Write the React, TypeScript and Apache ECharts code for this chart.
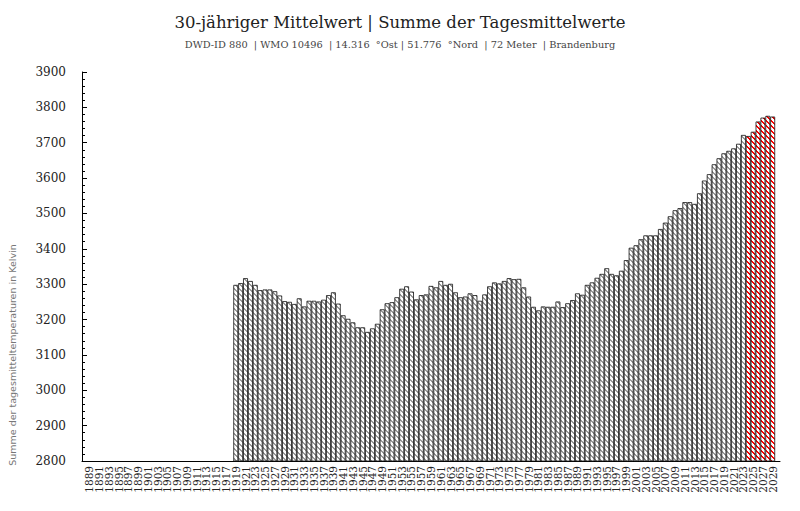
import React, { useEffect, useRef } from 'react';
import * as echarts from 'echarts';

const firstYear = 1888;
const lastYear = 2030;
const years: string[] = [];
for (let y = firstYear; y <= lastYear; y++) years.push(String(y));

const observedStart = 1919;
const observedValues: number[] = [
  3298, 3303, 3317, 3309, 3298, 3283, 3285, 3285, 3280, 3268,
  3252, 3250, 3244, 3260, 3237, 3253, 3253, 3251, 3256, 3269,
  3277, 3245, 3212, 3202, 3192, 3178, 3178, 3165, 3175, 3188,
  3229, 3246, 3249, 3263, 3287, 3294, 3279, 3257, 3269, 3271,
  3295, 3291, 3309, 3298, 3301, 3277, 3263, 3265, 3274, 3269,
  3253, 3271, 3294, 3305, 3302, 3309, 3317, 3314, 3315, 3291,
  3265, 3236, 3226, 3237, 3236, 3236, 3251, 3235, 3246, 3255,
  3274, 3270, 3298, 3305, 3318, 3329, 3345, 3329, 3325, 3338,
  3368, 3403, 3410, 3427, 3438, 3438, 3438, 3456, 3474, 3492,
  3509, 3515, 3532, 3532, 3527, 3557, 3593, 3611, 3639, 3656,
  3670, 3677, 3684, 3697, 3722,
];
const forecastStart = 2024;
const forecastValues: number[] = [3719, 3731, 3760, 3771, 3776, 3774];

const yTicks = { min: 2800, max: 3900, step: 100 };

const titleText = '30-jähriger Mittelwert | Summe der Tagesmittelwerte';
const subText = 'DWD-ID 880  | WMO 10496  | 14.316  °Ost | 51.776  °Nord  | 72 Meter  | Brandenburg';
const yName = 'Summe der tagesmitteltemperaturen in Kelvin';

function buildSeries(start: number, vals: number[]) {
  return years.map((y) => {
    const i = Number(y) - start;
    return i >= 0 && i < vals.length ? vals[i] : null;
  });
}

function makeHatch(color: string) {
  const size = 5;
  const c = document.createElement('canvas');
  c.width = size;
  c.height = size;
  const ctx = c.getContext('2d')!;
  ctx.fillStyle = '#ffffff';
  ctx.fillRect(0, 0, size, size);
  ctx.fillStyle = color;
  for (let y = 0; y < size; y++) {
    for (let x = 0; x < size; x++) {
      if ((((x - y) % size) + size) % size < 2) ctx.fillRect(x, y, 1, 1);
    }
  }
  return c;
}

export default function App() {
  const ref = useRef<HTMLDivElement>(null);
  useEffect(() => {
    if (!ref.current) return;
    const chart = echarts.init(ref.current, undefined, { renderer: 'svg' });
    const serif = 'DejaVu Serif';
    const oddYear = (_i: number, v: string) => Number(v) % 2 === 1;
    chart.setOption({
      animation: false,
      backgroundColor: '#fff',
      title: [
        {
          text: titleText,
          left: 'center',
          top: 9,
          textStyle: { fontFamily: serif, fontSize: 16.5, fontWeight: 'normal', color: '#222' },
        },
        {
          text: subText,
          left: 'center',
          top: 34,
          textStyle: { fontFamily: serif, fontSize: 9.8, fontWeight: 'normal', color: '#444' },
        },
      ],
      grid: { left: 82, right: 20, top: 72, bottom: 50 },
      xAxis: {
        type: 'category',
        data: years,
        axisLine: { lineStyle: { color: '#000', width: 1 } },
        axisTick: {
          inside: true,
          length: 4,
          alignWithLabel: true,
          interval: oddYear,
          lineStyle: { color: '#000' },
        },
        axisLabel: {
          rotate: 90,
          interval: 0,
          formatter: (v: string) => (Number(v) % 2 === 1 ? v : ''),
          fontFamily: serif,
          fontSize: 10.5,
          color: '#222',
          margin: 5,
        },
      },
      yAxis: {
        type: 'value',
        min: yTicks.min,
        max: yTicks.max,
        interval: yTicks.step,
        axisLine: { show: true, lineStyle: { color: '#000', width: 1 } },
        axisTick: { show: true, inside: true, length: 5, lineStyle: { color: '#000' } },
        minorTick: { show: true, splitNumber: 5, length: 3, lineStyle: { color: '#000' } },
        splitLine: { show: false },
        axisLabel: {
          fontFamily: serif,
          fontSize: 12,
          color: '#222',
          margin: 16,
          formatter: (v: number) => String(v),
        },
      },
      graphic: [
        {
          type: 'text',
          x: 12,
          y: 355,
          rotation: Math.PI / 2,
          style: {
            text: yName,
            fill: '#777',
            font: '9.5px "DejaVu Sans"',
            align: 'center',
            verticalAlign: 'middle',
          },
        },
      ],
      series: [
        {
          type: 'bar',
          data: buildSeries(observedStart, observedValues),
          barCategoryGap: '0%',
          barGap: '-100%',
          itemStyle: {
            color: { image: makeHatch('#9a9a9a'), repeat: 'repeat' },
            borderColor: '#111',
            borderWidth: 0.8,
          },
        },
        {
          type: 'bar',
          data: buildSeries(forecastStart, forecastValues),
          barCategoryGap: '0%',
          barGap: '-100%',
          itemStyle: {
            color: { image: makeHatch('#ff0000'), repeat: 'repeat' },
            borderColor: '#111',
            borderWidth: 0.8,
          },
        },
      ],
    });
    return () => chart.dispose();
  }, []);
  return (
    <div
      ref={ref}
      style={{ position: 'fixed', left: 0, top: 0, width: 800, height: 511, background: '#fff' }}
    />
  );
}
